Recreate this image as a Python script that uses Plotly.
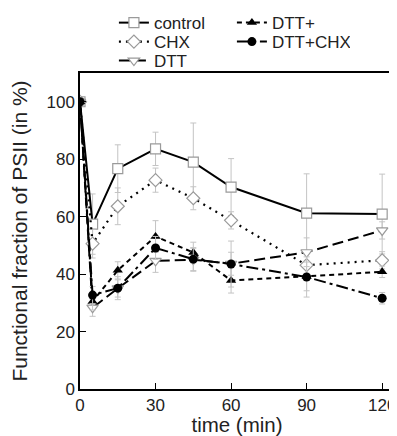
import plotly.graph_objects as go

times = [0, 5, 15, 30, 45, 60, 90, 120]

control = [100, 57.4, 76.7, 83.6, 79.0, 70.3, 61.2, 60.9]
control_err = [0, 10.5, 8.3, 5.8, 13.6, 9.9, 13.7, 13.9]

chx = [100, 50.6, 63.6, 72.7, 66.4, 58.7, 43.1, 44.8]
chx_err = [0, 5, 6.4, 4.2, 4, 3, 4, 3]

dtt = [100, 28.3, 35.0, 44.6, 45.0, 43.6, 47.6, 55.2]
dtt_err = [0, 3, 3, 4, 4, 4, 5, 3]

dtt_plus = [100, 30.5, 41.3, 53.1, 47.5, 37.8, 39.2, 40.8]
dtt_plus_err = [0, 3, 3, 5.5, 3.6, 4.4, 5, 2]

dtt_chx = [100, 32.7, 35.1, 49.1, 45.2, 43.5, 39.0, 31.6]
dtt_chx_err = [0, 3, 4, 4, 4, 8, 7, 2]

x_ticks = [0, 30, 60, 90, 120]
y_ticks = [0, 20, 40, 60, 80, 100]

ERR = dict(type="data", visible=True, color="#c4c4c4", thickness=1, width=3)


def err(a):
    d = dict(ERR)
    d["array"] = a
    return d


OPEN = dict(size=10, color="white", line=dict(width=1.2, color="#9a9a9a"))

fig = go.Figure()

fig.add_trace(go.Scatter(
    x=times, y=control, name="control", mode="lines+markers",
    line=dict(color="black", width=2, dash="solid"),
    marker=dict(OPEN, symbol="square"),
    error_y=err(control_err), legend="legend"))

fig.add_trace(go.Scatter(
    x=times, y=chx, name="CHX", mode="lines+markers",
    line=dict(color="black", width=2.2, dash="2px,5px"),
    marker=dict(OPEN, symbol="diamond"),
    error_y=err(chx_err), legend="legend2"))

fig.add_trace(go.Scatter(
    x=times, y=dtt, name="DTT", mode="lines+markers",
    line=dict(color="black", width=2, dash="11px,5px"),
    marker=dict(OPEN, symbol="triangle-down"),
    error_y=err(dtt_err), legend="legend3"))

fig.add_trace(go.Scatter(
    x=times, y=dtt_plus, name="DTT+", mode="lines+markers",
    line=dict(color="black", width=2, dash="5px,4px"),
    marker=dict(symbol="triangle-up", size=9, color="black"),
    error_y=err(dtt_plus_err), legend="legend"))

fig.add_trace(go.Scatter(
    x=times, y=dtt_chx, name="DTT+CHX", mode="lines+markers",
    line=dict(color="black", width=2, dash="12px,4px,3px,4px"),
    marker=dict(symbol="circle", size=9, color="black"),
    error_y=err(dtt_chx_err), legend="legend2"))

FONT = "Liberation Sans, Arial, sans-serif"

LEG = dict(xanchor="left", yanchor="middle", bgcolor="rgba(0,0,0,0)",
           font=dict(size=17), itemwidth=30, orientation="h",
           entrywidth=73, entrywidthmode="pixels", x=0.108)

# the page body has an 8px default margin, so the figure is sized to fit the window
fig.update_layout(
    width=389, height=428,
    margin=dict(l=72, r=3, t=65, b=47, autoexpand=False),
    paper_bgcolor="white", plot_bgcolor="white",
    font=dict(family=FONT, size=17, color="#222222"),
    showlegend=True,
    legend=dict(LEG, y=1.158),
    legend2=dict(LEG, y=1.098),
    legend3=dict(LEG, y=1.038),
    xaxis=dict(range=[0, 124.7], tickvals=x_ticks, ticks="inside", ticklen=6,
               tickcolor="black", showline=True, linecolor="black", linewidth=1.5,
               mirror=True, showgrid=False, zeroline=False, automargin=False,
               tickfont=dict(size=17),
               title=dict(text="time (min)", font=dict(size=20.5), standoff=8)),
    yaxis=dict(range=[0, 110], tickvals=y_ticks, ticks="inside", ticklen=6,
               tickcolor="black", showline=True, linecolor="black", linewidth=1.5,
               mirror=True, showgrid=False, zeroline=False, automargin=False,
               tickfont=dict(size=17),
               title=dict(text="Functional fraction of PSII (in %)", font=dict(size=21), standoff=16)),
)

fig.write_html("out.html")
